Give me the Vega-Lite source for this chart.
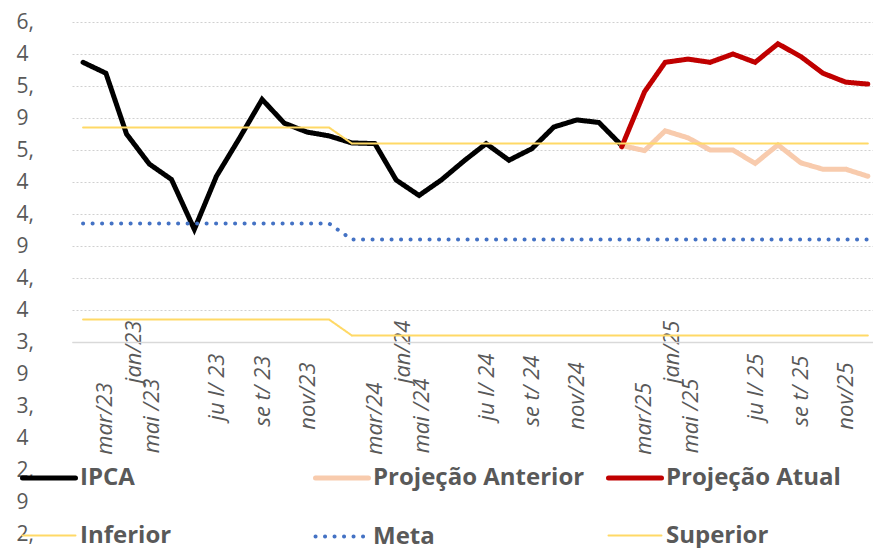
{
  "$schema": "https://vega.github.io/schema/vega-lite/v6.json",
  "width": 801,
  "height": 320,
  "autosize": {"type": "none"},
  "padding": {"left": 72, "top": 22, "right": 0, "bottom": 206},
  "background": "white",
  "config": {"view": {"stroke": null}, "font": "Open Sans"},
  "data": {"values": [
    {"d":"2023-01-01","s":"IPCA","v":5.77},{"d":"2023-02-01","s":"IPCA","v":5.60},{"d":"2023-03-01","s":"IPCA","v":4.65},{"d":"2023-04-01","s":"IPCA","v":4.18},{"d":"2023-05-01","s":"IPCA","v":3.94},{"d":"2023-06-01","s":"IPCA","v":3.16},{"d":"2023-07-01","s":"IPCA","v":3.99},{"d":"2023-08-01","s":"IPCA","v":4.58},{"d":"2023-09-01","s":"IPCA","v":5.19},{"d":"2023-10-01","s":"IPCA","v":4.82},{"d":"2023-11-01","s":"IPCA","v":4.68},{"d":"2023-12-01","s":"IPCA","v":4.62},
    {"d":"2024-01-01","s":"IPCA","v":4.51},{"d":"2024-02-01","s":"IPCA","v":4.50},{"d":"2024-03-01","s":"IPCA","v":3.93},{"d":"2024-04-01","s":"IPCA","v":3.69},{"d":"2024-05-01","s":"IPCA","v":3.93},{"d":"2024-06-01","s":"IPCA","v":4.23},{"d":"2024-07-01","s":"IPCA","v":4.50},{"d":"2024-08-01","s":"IPCA","v":4.24},{"d":"2024-09-01","s":"IPCA","v":4.42},{"d":"2024-10-01","s":"IPCA","v":4.76},{"d":"2024-11-01","s":"IPCA","v":4.87},{"d":"2024-12-01","s":"IPCA","v":4.83},
    {"d":"2025-01-01","s":"IPCA","v":4.47},
    {"d":"2025-01-01","s":"Projeção Anterior","v":4.47},{"d":"2025-02-01","s":"Projeção Anterior","v":4.39},{"d":"2025-03-01","s":"Projeção Anterior","v":4.70},{"d":"2025-04-01","s":"Projeção Anterior","v":4.59},{"d":"2025-05-01","s":"Projeção Anterior","v":4.40},{"d":"2025-06-01","s":"Projeção Anterior","v":4.40},{"d":"2025-07-01","s":"Projeção Anterior","v":4.19},{"d":"2025-08-01","s":"Projeção Anterior","v":4.48},{"d":"2025-09-01","s":"Projeção Anterior","v":4.20},{"d":"2025-10-01","s":"Projeção Anterior","v":4.10},{"d":"2025-11-01","s":"Projeção Anterior","v":4.10},{"d":"2025-12-01","s":"Projeção Anterior","v":3.99},
    {"d":"2025-01-01","s":"Projeção Atual","v":4.45},{"d":"2025-02-01","s":"Projeção Atual","v":5.31},{"d":"2025-03-01","s":"Projeção Atual","v":5.77},{"d":"2025-04-01","s":"Projeção Atual","v":5.82},{"d":"2025-05-01","s":"Projeção Atual","v":5.77},{"d":"2025-06-01","s":"Projeção Atual","v":5.90},{"d":"2025-07-01","s":"Projeção Atual","v":5.77},{"d":"2025-08-01","s":"Projeção Atual","v":6.06},{"d":"2025-09-01","s":"Projeção Atual","v":5.86},{"d":"2025-10-01","s":"Projeção Atual","v":5.60},{"d":"2025-11-01","s":"Projeção Atual","v":5.46},{"d":"2025-12-01","s":"Projeção Atual","v":5.43},
    {"d":"2023-01-01","s":"Inferior","v":1.75},{"d":"2023-02-01","s":"Inferior","v":1.75},{"d":"2023-03-01","s":"Inferior","v":1.75},{"d":"2023-04-01","s":"Inferior","v":1.75},{"d":"2023-05-01","s":"Inferior","v":1.75},{"d":"2023-06-01","s":"Inferior","v":1.75},{"d":"2023-07-01","s":"Inferior","v":1.75},{"d":"2023-08-01","s":"Inferior","v":1.75},{"d":"2023-09-01","s":"Inferior","v":1.75},{"d":"2023-10-01","s":"Inferior","v":1.75},{"d":"2023-11-01","s":"Inferior","v":1.75},{"d":"2023-12-01","s":"Inferior","v":1.75},
    {"d":"2024-01-01","s":"Inferior","v":1.5},{"d":"2024-02-01","s":"Inferior","v":1.5},{"d":"2024-03-01","s":"Inferior","v":1.5},{"d":"2024-04-01","s":"Inferior","v":1.5},{"d":"2024-05-01","s":"Inferior","v":1.5},{"d":"2024-06-01","s":"Inferior","v":1.5},{"d":"2024-07-01","s":"Inferior","v":1.5},{"d":"2024-08-01","s":"Inferior","v":1.5},{"d":"2024-09-01","s":"Inferior","v":1.5},{"d":"2024-10-01","s":"Inferior","v":1.5},{"d":"2024-11-01","s":"Inferior","v":1.5},{"d":"2024-12-01","s":"Inferior","v":1.5},
    {"d":"2025-01-01","s":"Inferior","v":1.5},{"d":"2025-02-01","s":"Inferior","v":1.5},{"d":"2025-03-01","s":"Inferior","v":1.5},{"d":"2025-04-01","s":"Inferior","v":1.5},{"d":"2025-05-01","s":"Inferior","v":1.5},{"d":"2025-06-01","s":"Inferior","v":1.5},{"d":"2025-07-01","s":"Inferior","v":1.5},{"d":"2025-08-01","s":"Inferior","v":1.5},{"d":"2025-09-01","s":"Inferior","v":1.5},{"d":"2025-10-01","s":"Inferior","v":1.5},{"d":"2025-11-01","s":"Inferior","v":1.5},{"d":"2025-12-01","s":"Inferior","v":1.5},
    {"d":"2023-01-01","s":"Meta","v":3.25},{"d":"2023-02-01","s":"Meta","v":3.25},{"d":"2023-03-01","s":"Meta","v":3.25},{"d":"2023-04-01","s":"Meta","v":3.25},{"d":"2023-05-01","s":"Meta","v":3.25},{"d":"2023-06-01","s":"Meta","v":3.25},{"d":"2023-07-01","s":"Meta","v":3.25},{"d":"2023-08-01","s":"Meta","v":3.25},{"d":"2023-09-01","s":"Meta","v":3.25},{"d":"2023-10-01","s":"Meta","v":3.25},{"d":"2023-11-01","s":"Meta","v":3.25},{"d":"2023-12-01","s":"Meta","v":3.25},
    {"d":"2024-01-01","s":"Meta","v":3.0},{"d":"2024-02-01","s":"Meta","v":3.0},{"d":"2024-03-01","s":"Meta","v":3.0},{"d":"2024-04-01","s":"Meta","v":3.0},{"d":"2024-05-01","s":"Meta","v":3.0},{"d":"2024-06-01","s":"Meta","v":3.0},{"d":"2024-07-01","s":"Meta","v":3.0},{"d":"2024-08-01","s":"Meta","v":3.0},{"d":"2024-09-01","s":"Meta","v":3.0},{"d":"2024-10-01","s":"Meta","v":3.0},{"d":"2024-11-01","s":"Meta","v":3.0},{"d":"2024-12-01","s":"Meta","v":3.0},
    {"d":"2025-01-01","s":"Meta","v":3.0},{"d":"2025-02-01","s":"Meta","v":3.0},{"d":"2025-03-01","s":"Meta","v":3.0},{"d":"2025-04-01","s":"Meta","v":3.0},{"d":"2025-05-01","s":"Meta","v":3.0},{"d":"2025-06-01","s":"Meta","v":3.0},{"d":"2025-07-01","s":"Meta","v":3.0},{"d":"2025-08-01","s":"Meta","v":3.0},{"d":"2025-09-01","s":"Meta","v":3.0},{"d":"2025-10-01","s":"Meta","v":3.0},{"d":"2025-11-01","s":"Meta","v":3.0},{"d":"2025-12-01","s":"Meta","v":3.0},
    {"d":"2023-01-01","s":"Superior","v":4.75},{"d":"2023-02-01","s":"Superior","v":4.75},{"d":"2023-03-01","s":"Superior","v":4.75},{"d":"2023-04-01","s":"Superior","v":4.75},{"d":"2023-05-01","s":"Superior","v":4.75},{"d":"2023-06-01","s":"Superior","v":4.75},{"d":"2023-07-01","s":"Superior","v":4.75},{"d":"2023-08-01","s":"Superior","v":4.75},{"d":"2023-09-01","s":"Superior","v":4.75},{"d":"2023-10-01","s":"Superior","v":4.75},{"d":"2023-11-01","s":"Superior","v":4.75},{"d":"2023-12-01","s":"Superior","v":4.75},
    {"d":"2024-01-01","s":"Superior","v":4.5},{"d":"2024-02-01","s":"Superior","v":4.5},{"d":"2024-03-01","s":"Superior","v":4.5},{"d":"2024-04-01","s":"Superior","v":4.5},{"d":"2024-05-01","s":"Superior","v":4.5},{"d":"2024-06-01","s":"Superior","v":4.5},{"d":"2024-07-01","s":"Superior","v":4.5},{"d":"2024-08-01","s":"Superior","v":4.5},{"d":"2024-09-01","s":"Superior","v":4.5},{"d":"2024-10-01","s":"Superior","v":4.5},{"d":"2024-11-01","s":"Superior","v":4.5},{"d":"2024-12-01","s":"Superior","v":4.5},
    {"d":"2025-01-01","s":"Superior","v":4.5},{"d":"2025-02-01","s":"Superior","v":4.5},{"d":"2025-03-01","s":"Superior","v":4.5},{"d":"2025-04-01","s":"Superior","v":4.5},{"d":"2025-05-01","s":"Superior","v":4.5},{"d":"2025-06-01","s":"Superior","v":4.5},{"d":"2025-07-01","s":"Superior","v":4.5},{"d":"2025-08-01","s":"Superior","v":4.5},{"d":"2025-09-01","s":"Superior","v":4.5},{"d":"2025-10-01","s":"Superior","v":4.5},{"d":"2025-11-01","s":"Superior","v":4.5},{"d":"2025-12-01","s":"Superior","v":4.5}
  ]},
  "mark": {"type": "line", "strokeCap": "round"},
  "encoding": {
    "x": {
      "field": "d", "type": "temporal",
      "scale": {"type": "utc", "domain": [{"year": 2022, "month": 12, "date": 17, "utc": true}, {"year": 2025, "month": 12, "date": 8, "utc": true}]},
      "axis": {
        "title": null,
        "grid": false,
        "ticks": false,
        "tickCount": {"interval": "month", "step": 2},
        "domainColor": "#d9d9d9",
        "domainWidth": 1.3,
        "labelAngle": -90,
        "labelAlign": "right",
        "labelBaseline": "middle",
        "labelFontSize": 22,
        "labelFontStyle": "italic",
        "labelColor": "#595959",
        "labelOverlap": false,
        "labelFlush": false,
        "labelBound": false,
        "labelExpr": "['jan/','','mar/','','mai /','','ju l/ ','','se t/ ','','nov/',''][utcmonth(datum.value)] + utcFormat(datum.value, '%y')",
        "labelOffset": {"condition": [{"test": "utcmonth(datum.value)==0", "value": 50}, {"test": "utcmonth(datum.value)==2", "value": -22}, {"test": "utcmonth(datum.value)==4", "value": -20}], "value": 0},
        "labelPadding": {"condition": [{"test": "utcmonth(datum.value)==0", "value": -22}, {"test": "utcmonth(datum.value)==2", "value": 40}, {"test": "utcmonth(datum.value)==4", "value": 36}, {"test": "utcmonth(datum.value)==6", "value": 11}, {"test": "utcmonth(datum.value)==8", "value": 13}], "value": 20}
      }
    },
    "y": {
      "field": "v", "type": "quantitative",
      "scale": {"domain": [1.4, 6.4], "nice": false, "zero": false},
      "axis": {
        "title": null,
        "values": [6.4, 5.9, 5.4, 4.9, 4.4, 3.9, 3.4, 2.9, 2.4, 1.9, 1.4],
        "labelExpr": "['6,', '4', '5,', '9', '5,', '4', '4,', '9', '4,', '4', ['3,', '9', '3,', '4', '2,', '9', '2,']][round((6.4 - datum.value) * 2)]",
        "domain": false,
        "ticks": false,
        "grid": true,
        "gridColor": "#d0d0d0",
        "gridDash": [2, 2],
        "gridWidth": 1,
        "labelAlign": "left",
        "labelBaseline": "middle",
        "labelPadding": 56,
        "labelFontSize": 21,
        "labelColor": "#595959",
        "labelLineHeight": 32,
        "labelOverlap": false,
        "labelFlush": false,
        "labelBound": false
      }
    },
    "color": {
      "field": "s", "type": "nominal",
      "scale": {
        "domain": ["IPCA", "Projeção Anterior", "Projeção Atual", "Inferior", "Meta", "Superior"],
        "range": ["#000000", "#f8cbad", "#c00000", "#ffd966", "#4472c4", "#ffd966"]
      },
      "legend": {
        "title": null,
        "orient": "none",
        "direction": "horizontal",
        "legendX": -52,
        "legendY": 427,
        "columns": 3,
        "gridAlign": "all",
        "columnPadding": 13,
        "rowPadding": 18,
        "padding": 0,
        "symbolType": "stroke",
        "symbolSize": 2809,
        "labelFontSize": 24,
        "labelFontWeight": "bold",
        "labelColor": "#595959",
        "labelOffset": 2,
        "labelLimit": 400,
        "encode": {"symbols": {"update": {"strokeCap": {"value": "round"}}}}
      }
    },
    "strokeWidth": {
      "field": "s", "type": "nominal",
      "scale": {
        "type": "ordinal",
        "domain": ["IPCA", "Projeção Anterior", "Projeção Atual", "Inferior", "Meta", "Superior"],
        "range": [5, 5, 5, 2, 4, 2]
      }
    },
    "strokeDash": {
      "field": "s", "type": "nominal",
      "scale": {
        "domain": ["IPCA", "Projeção Anterior", "Projeção Atual", "Inferior", "Meta", "Superior"],
        "range": [[1, 0], [1, 0], [1, 0], [1, 0], [0.1, 9.4], [1, 0]]
      }
    }
  }
}
